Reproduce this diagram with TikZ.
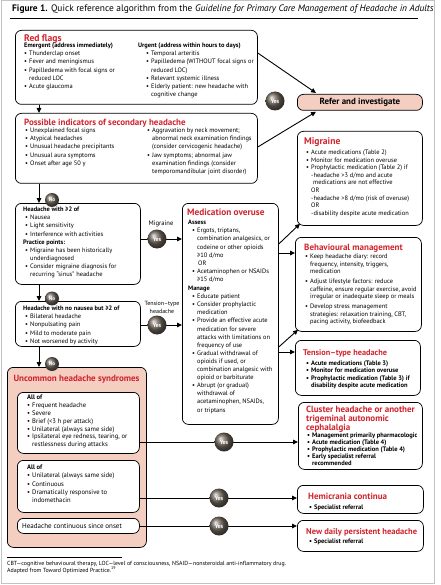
\documentclass[tikz,border=0pt]{standalone}
\usepackage{fontspec}
\setmainfont{PT Sans}
\usetikzlibrary{arrows.meta,calc}
\definecolor{hred}{RGB}{208,35,45}
\definecolor{pinkf}{RGB}{243,206,193}
\definecolor{ballc}{RGB}{110,100,90}
\definecolor{framec}{RGB}{195,195,195}
\newcommand\bul{\makebox[5pt][l]{\textbullet}}
\newcommand\ind{\hspace*{5pt}}
\newcommand\hfs[1]{\fontsize{#1}{9}\selectfont\bfseries}
\begin{document}
\begin{tikzpicture}[x=1pt,y=-1pt,
  box/.style={draw, line width=0.75pt, rounded corners=6pt, anchor=north west, inner sep=0pt},
  txt/.style={anchor=north west, yshift=5.2pt, execute at begin node={\rule{0pt}{5.2pt}}, inner sep=0pt, align=left, font=\fontsize{6.4}{8.1}\selectfont},
  rtxt/.style={txt, font=\fontsize{6.4}{7.6}\selectfont},
  btxt/.style={txt, font=\fontsize{6.5}{7.3}\selectfont\bfseries},
  hd/.style={anchor=base west, inner sep=0pt, align=left, font=\hfs{9}, text=hred},
  yesball/.style={circle, shading=ball, ball color=ballc, text=white, font=\fontsize{6}{6}\selectfont\bfseries, minimum size=19pt, inner sep=0pt},
  noball/.style={circle, shading=ball, ball color=ballc, text=white, font=\fontsize{5.2}{5}\selectfont\bfseries, minimum size=14pt, inner sep=0pt},
  arr/.style={-{Triangle[length=5pt,width=4.5pt]}, line width=0.9pt},
  lbl/.style={inner sep=0pt, align=center, font=\fontsize{6}{7.4}\selectfont}
]
\useasboundingbox (0,0) rectangle (440,585);
\draw[framec, line width=1pt] (1.5,0.5) rectangle (434,583);

% title
\node[anchor=base west, inner sep=0pt, font=\fontsize{9.4}{10}\selectfont] (title) at (12,12)
  {\textbf{Figure 1.} Quick reference algorithm from the \textit{Guideline for Primary Care Management of Headache in Adults}};
\draw[line width=0.6pt] (10,18.5) -- (418,18.5);

% ---------- boxes ----------
\node[box, minimum width=242pt, minimum height=74pt] (rf) at (15,30) {};
\node[box, minimum width=242pt, minimum height=70pt] (pi) at (15,113) {};
\node[box, fill=pinkf, minimum width=125pt, minimum height=16pt] (refer) at (297,94) {};
\node[inner sep=0pt, font=\fontsize{8.9}{8}\selectfont\bfseries] (refert) at ($(refer.center)+(0,0.3)$) {Refer and investigate};
\node[box, minimum width=125pt, minimum height=81pt] (h1) at (15,203) {};
\node[box, minimum width=125pt, minimum height=45pt] (h2) at (15,301) {};
\node[box, fill=pinkf, minimum width=139pt, minimum height=180pt] (unc) at (7,367) {};
\node[box, fill=white, minimum width=122pt, minimum height=61pt] (u1) at (17,392) {};
\node[box, fill=white, minimum width=122pt, minimum height=52pt] (u2) at (17,460) {};
\node[box, fill=white, minimum width=122pt, minimum height=15pt] (u3) at (17,518) {};
\node[box, minimum width=96pt, minimum height=221pt] (med) at (182,203) {};
\node[box, minimum width=125pt, minimum height=94pt] (mig) at (297,131) {};
\node[box, minimum width=126pt, minimum height=94pt] (beh) at (295,237) {};
\node[box, minimum width=125pt, minimum height=55pt] (tth) at (295,340) {};
\node[box, minimum width=124pt, minimum height=67pt] (clu) at (298,402) {};
\node[box, minimum width=126pt, minimum height=28pt] (hem) at (297,485) {};
\node[box, minimum width=126pt, minimum height=31pt] (ndp) at (297,520) {};

% ---------- Red flags ----------
\node[hd, font=\hfs{9.6}] (rft) at (24,41.5) {Red flags};
\node[txt] (rfL) at (24,48.2) {\textbf{Emergent (address immediately)}\\
\bul Thunderclap onset\\
\bul Fever and meningismus\\
\bul Papilledema with focal signs or\\
\ind reduced LOC\\
\bul Acute glaucoma};
\node[txt] (rfR) at (138,48.2) {\textbf{Urgent (address within hours to days)}\\
\hspace*{8pt}\bul Temporal arteritis\\
\hspace*{8pt}\bul Papilledema (WITHOUT focal signs or\\
\hspace*{13pt}reduced LOC)\\
\hspace*{8pt}\bul Relevant systemic illness\\
\hspace*{8pt}\bul Elderly patient: new headache with\\
\hspace*{13pt}cognitive change};

% ---------- Possible indicators ----------
\node[hd] (pit) at (24,125.3) {Possible indicators of secondary headache};
\node[txt] (piL) at (25,133.2) {\bul Unexplained focal signs\\
\bul Atypical headaches\\
\bul Unusual headache precipitants\\
\bul Unusual aura symptoms\\
\bul Onset after age 50 y};
\node[txt] (piR) at (147,133.2) {\bul Aggravation by neck movement;\\
\ind abnormal neck examination findings\\
\ind (consider cervicogenic headache)\\
\bul Jaw symptoms; abnormal jaw\\
\ind examination findings (consider\\
\ind temporomandibular joint disorder)};

% ---------- Headache boxes ----------
\node[txt] (h1t) at (23,212.2) {\textbf{Headache with ≥2 of}\\
\hspace*{2pt}\bul Nausea\\
\hspace*{2pt}\bul Light sensitivity\\
\hspace*{2pt}\bul Interference with activities\\
\textbf{Practice points:}\\
\hspace*{2pt}\bul Migraine has been historically\\
\hspace*{7pt}underdiagnosed\\
\hspace*{2pt}\bul Consider migraine diagnosis for\\
\hspace*{7pt}recurring “sinus” headache};
\node[txt] (h2t) at (23,311.2) {\textbf{Headache with no nausea but ≥2 of}\\
\hspace*{2pt}\bul Bilateral headache\\
\hspace*{2pt}\bul Nonpulsating pain\\
\hspace*{2pt}\bul Mild to moderate pain\\
\hspace*{2pt}\bul Not worsened by activity};

% ---------- Uncommon ----------
\node[hd, anchor=base] (unct) at (76.5,381.2) {Uncommon headache syndromes};
\node[txt, font=\fontsize{6.6}{7.8}\selectfont] (u1t) at (27,400.2) {\textbf{All of}\\
\bul Frequent headache\\
\bul Severe\\
\bul Brief (<3 h per attack)\\
\bul Unilateral (always same side)\\
\bul Ipsilateral eye redness, tearing, or\\
\ind restlessness during attacks};
\node[txt, font=\fontsize{6.6}{8.1}\selectfont] (u2t) at (27,470.2) {\textbf{All of}\\
\bul Unilateral (always same side)\\
\bul Continuous\\
\bul Dramatically responsive to\\
\ind indomethacin};
\node[txt, font=\fontsize{7}{8}\selectfont] (u3t) at (22,528.4) {Headache continuous since onset};

% ---------- Medication overuse ----------
\node[hd, font=\hfs{9.3}] (medt) at (187,215) {Medication overuse};
\node[txt] (medA) at (188,225.2) {\textbf{Assess}\\
\hspace*{4pt}\bul Ergots, triptans,\\
\hspace*{9pt}combination analgesics, or\\
\hspace*{9pt}codeine or other opioids\\
\hspace*{9pt}≥10 d/mo\\
\hspace*{10pt}OR\\
\hspace*{4pt}\bul Acetaminophen or NSAIDs\\
\hspace*{9pt}≥15 d/mo\\[1pt]
\textbf{Manage}\\
\hspace*{4pt}\bul Educate patient\\
\hspace*{4pt}\bul Consider prophylactic\\
\hspace*{9pt}medication\\
\hspace*{4pt}\bul Provide an effective acute\\
\hspace*{9pt}medication for severe\\
\hspace*{9pt}attacks with limitations on\\
\hspace*{9pt}frequency of use\\
\hspace*{4pt}\bul Gradual withdrawal of\\
\hspace*{9pt}opioids if used, or\\
\hspace*{9pt}combination analgesic with\\
\hspace*{9pt}opioid or barbiturate\\
\hspace*{4pt}\bul Abrupt (or gradual)\\
\hspace*{9pt}withdrawal of\\
\hspace*{9pt}acetaminophen, NSAIDs,\\
\hspace*{9pt}or triptans};

% ---------- Right column ----------
\node[hd, font=\hfs{9.6}] (migt) at (304,145) {Migraine};
\node[rtxt] (migb) at (306,155) {\bul Acute medications (Table 2)\\
\bul Monitor for medication overuse\\
\bul Prophylactic medication (Table 2) if\\
\hspace*{5pt}-headache >3 d/mo and acute\\
\hspace*{7pt}medications are not effective\\
\hspace*{5pt}OR\\
\hspace*{5pt}-headache >8 d/mo (risk of overuse)\\
\hspace*{5pt}OR\\
\hspace*{5pt}-disability despite acute medication};

\node[hd] (beht) at (304,250) {Behavioural management};
\node[rtxt, font=\fontsize{6.4}{7.7}\selectfont] (behb) at (305,259) {\bul Keep headache diary: record\\
\ind frequency, intensity, triggers,\\
\ind medication\\[1.8pt]
\bul Adjust lifestyle factors: reduce\\
\ind caffeine, ensure regular exercise, avoid\\
\ind irregular or inadequate sleep or meals\\[1.8pt]
\bul Develop stress management\\
\ind strategies: relaxation training, CBT,\\
\ind pacing activity, biofeedback};

\node[hd, font=\hfs{8.3}] (ttht) at (303,355) {Tension–type headache};
\node[btxt] (tthb) at (306,366) {\bul Acute medications (Table 3)\\
\bul Monitor for medication overuse\\
\bul Prophylactic medication (Table 3) if\\
\ind disability despite acute medication};

\node[hd, anchor=north west, yshift=6.5pt, execute at begin node={\rule{0pt}{6.5pt}}] (clut) at (306,412.3) {Cluster headache or another\\trigeminal autonomic\\cephalalgia};
\node[btxt, font=\fontsize{6.5}{7.1}\selectfont\bfseries] (club) at (307,437.5) {\bul Management primarily pharmacologic\\
\bul Acute medication (Table 4)\\
\bul Prophylactic medication (Table 4)\\
\bul Early specialist referral\\
\ind recommended};

\node[hd] (hemt) at (308,499.8) {Hemicrania continua};
\node[btxt] (hemb) at (309,509) {\bul Specialist referral};
\node[hd, font=\hfs{8.5}] (ndpt) at (306,534.8) {New daily persistent headache};
\node[btxt] (ndpb) at (309,543.3) {\bul Specialist referral};

% ---------- labels ----------
\node[lbl, font=\fontsize{6.6}{8}\selectfont] (lmig) at (161,224) {Migraine};
\node[lbl] (ltth) at (162,307.5) {Tension–type\\headache};

% ---------- connectors ----------
\draw[arr] ($(rf.north east)+(0,23)$) -- ($(refer.north west)+(19,-1)$);
\draw[arr] ($(pi.north east)+(0,34)$) -- ($(refer.south west)+(19,1)$);
\draw[arr] ($(rf.south west)+(24,0)$) -- ($(pi.north west)+(24,0)$);
\draw[arr] ($(pi.south west)+(24,0)$) -- ($(h1.north west)+(24,0)$);
\draw[arr] ($(h1.south west)+(24,0)$) -- ($(h2.north west)+(24,0)$);
\draw[arr] ($(h2.south west)+(24,0)$) -- ($(unc.north west)+(32,0)$);

\coordinate (ym) at (157,239);
\coordinate (yt) at (157,325);
\coordinate (yc) at (224,442);
\coordinate (yh) at (219,498);
\coordinate (yn) at (219,526);
\draw[arr] (h1.east |- ym) -- (med.west |- ym);
\draw[arr] (h2.east |- yt) -- (med.west |- yt);
\draw[arr] ($(med.north east)+(0,41)$) -- ($(mig.south west)+(3,-2)$);
\draw[arr] ($(med.north east)+(0,50)$) -- ($(beh.north west)+(0,16)$);
\draw[arr] ($(med.north east)+(0,144)$) -- ($(beh.south west)+(3,-2)$);
\draw[arr] ($(med.north east)+(0,149)$) -- ($(tth.north west)+(0,12)$);
\draw[arr] (u1.east |- yc) -- (clu.west |- yc);
\draw[arr] (u2.east |- yh) -- (hem.west |- yh);
\draw[arr] (u3.east |- yn) -- (ndp.west |- yn);

% ---------- balls ----------
\node[yesball] (b0) at (275,101) {Yes};
\node[yesball] (b1) at (ym) {Yes};
\node[yesball] (b2) at (yt) {Yes};
\node[yesball] (b3) at (yc) {Yes};
\node[yesball] (b4) at (yh) {Yes};
\node[yesball] (b5) at (yn) {Yes};
\node[noball] (n1) at (52,200) {No};
\node[noball] (n2) at (52,298.5) {No};
\node[noball] (n3) at (52,364) {No};

% ---------- footnote ----------
\draw[line width=0.5pt] (7,557) -- (122,557);
\node[anchor=north west, yshift=4.5pt, execute at begin node={\rule{0pt}{4.5pt}}, inner sep=0pt, align=left, font=\fontsize{5.9}{7}\selectfont] (fn) at (7,565.5)
  {CBT—cognitive behavioural therapy, LOC—level of consciousness, NSAID—nonsteroidal anti-inflammatory drug.\\
   Adapted from Toward Optimized Practice.\textsuperscript{19}};
\end{tikzpicture}
\end{document}
